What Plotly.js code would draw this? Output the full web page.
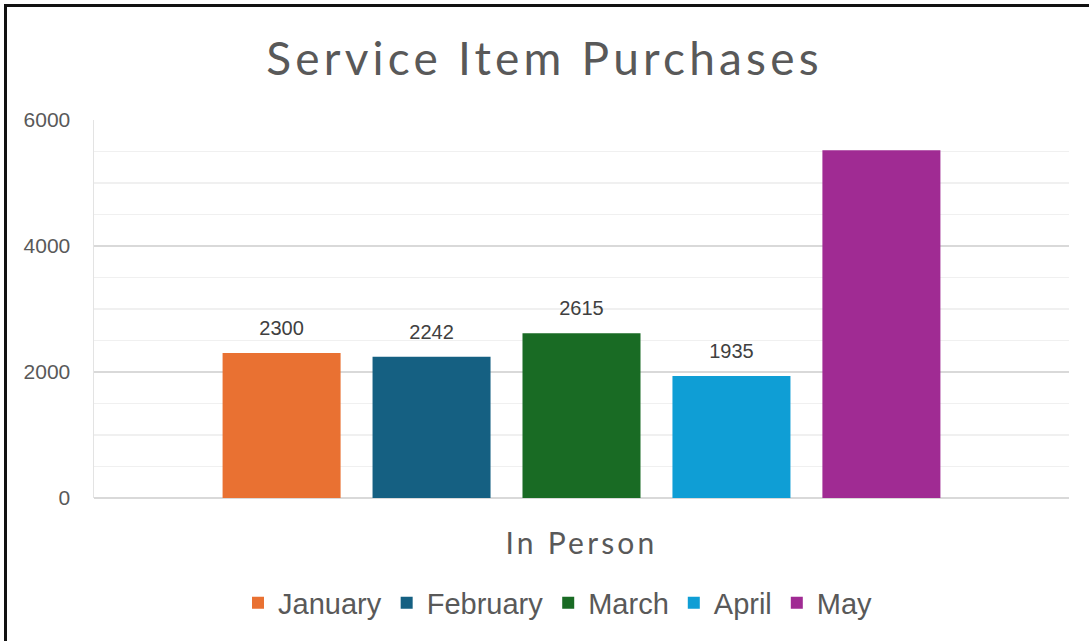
<!DOCTYPE html>
<html>
<head>
<meta charset="utf-8">
<script src="https://cdn.plot.ly/plotly-3.0.1.min.js"></script>
<style>
  html, body { margin: 0; padding: 0; background: #fff; }
  #wrap { position: relative; width: 1089px; height: 641px; overflow: hidden; }
  #chart { position: absolute; left: 0; top: 0; width: 1089px; height: 641px; }
  #frame { position: absolute; left: 4px; top: 4px; width: 1200px; height: 800px;
           border-left: 3px solid #111; border-top: 3px solid #111; pointer-events: none; }
  #chart .gtitle { letter-spacing: 4.2px; }
  #chart .xtick text { letter-spacing: 3.2px; }
</style>
</head>
<body>
<div id="wrap">
  <div id="chart"></div>
  <div id="frame"></div>
</div>
<script>
// ---- data ----
const categories = ["In Person"];
const seriesNames = ["January", "February", "March", "April", "May"];
const seriesValues = [2300, 2242, 2615, 1935, 5520];
const showLabel = [true, true, true, true, false];
const seriesColors = ["#E97132", "#156082", "#196B24", "#0F9ED5", "#A02B93"];
const yTicks = [0, 2000, 4000, 6000];

// ---- layout constants ----
const W = 1089, H = 641;
const margin = { l: 94, r: 20, t: 120, b: 143 };
const yMax = 6000;
const plotW = W - margin.l - margin.r;
const plotH = H - margin.t - margin.b;
const labelLiftPx = 11;
const lift = labelLiftPx * yMax / plotH;

const traces = [];
seriesNames.forEach((name, i) => {
  traces.push({
    type: "bar",
    name: name,
    x: categories,
    y: [seriesValues[i]],
    marker: { color: seriesColors[i], line: { width: 0 } },
    hoverinfo: "none",
    textposition: "none"
  });
});
// label traces on an overlaid, shifted axis so labels sit a bit higher above the bars
seriesNames.forEach((name, i) => {
  traces.push({
    type: "bar",
    name: name + " label",
    x: categories,
    y: [seriesValues[i]],
    yaxis: "y2",
    showlegend: false,
    marker: { color: "rgba(0,0,0,0)", line: { width: 0 } },
    text: [showLabel[i] ? String(seriesValues[i]) : ""],
    textposition: "outside",
    textfont: { family: "Liberation Sans, Arial, sans-serif", size: 20, color: "#404040" },
    cliponaxis: false,
    hoverinfo: "none"
  });
});

const layout = {
  width: W, height: H,
  margin: margin,
  paper_bgcolor: "#ffffff",
  plot_bgcolor: "#ffffff",
  barmode: "group",
  bargap: 0.231,
  bargroupgap: 0.213,
  showlegend: true,
  title: {
    text: "Service Item Purchases",
    font: { family: "Lato, sans-serif", size: 46, color: "#595959" },
    x: 0.5, xanchor: "center",
    y: 1 - 59 / H, yanchor: "middle", yref: "container"
  },
  xaxis: {
    type: "category",
    tickfont: { family: "Lato, sans-serif", size: 30, color: "#595959" },
    ticks: "", showgrid: false, zeroline: false, showline: false,
    ticklabelstandoff: 25,
    fixedrange: true
  },
  yaxis: {
    range: [0, yMax],
    tickvals: yTicks,
    ticktext: yTicks.map(String),
    tickfont: { family: "Liberation Sans, Arial, sans-serif", size: 21, color: "#595959" },
    ticks: "",
    ticklabelstandoff: 18,
    showgrid: true, gridcolor: "#d9d9d9", gridwidth: 1.5,
    zeroline: true, zerolinecolor: "#d9d9d9", zerolinewidth: 1.5,
    showline: true, linecolor: "#e3e3e3", linewidth: 1.5,
    minor: { dtick: 500, showgrid: true, gridcolor: "#f0f0f0", gridwidth: 1.5 },
    fixedrange: true
  },
  yaxis2: {
    overlaying: "y",
    range: [-lift, yMax - lift],
    visible: false,
    showgrid: false, zeroline: false, fixedrange: true
  },
  legend: {
    orientation: "h",
    x: (558 - margin.l) / plotW, xanchor: "center",
    y: (498 - 603) / plotH, yanchor: "middle",
    font: { family: "Liberation Sans, Arial, sans-serif", size: 29, color: "#595959" },
    itemclick: false, itemdoubleclick: false,
    traceorder: "normal"
  }
};

Plotly.newPlot("chart", traces, layout, { displayModeBar: false, staticPlot: true });
</script>
</body>
</html>
